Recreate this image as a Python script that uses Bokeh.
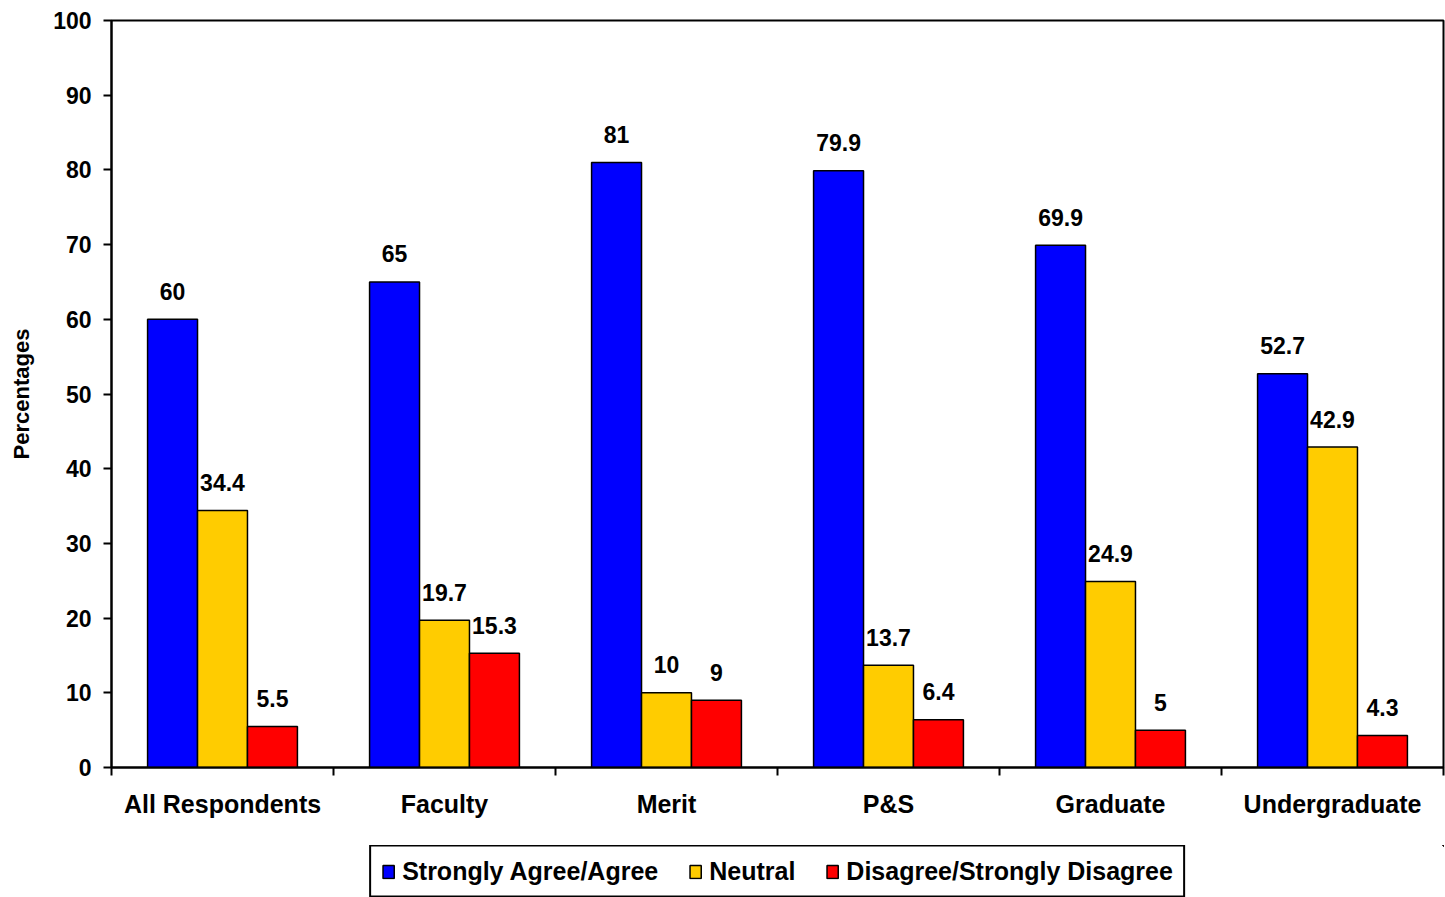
import numpy as np
from bokeh.plotting import figure
from bokeh.layouts import column
from bokeh.models import (ColumnDataSource, Range1d, FixedTicker, Legend, LegendItem)
from bokeh.core.properties import value
from bokeh.embed import file_html
from bokeh.resources import INLINE

categories = ["All Respondents", "Faculty", "Merit", "P&S", "Graduate", "Undergraduate"]
series_names = ["Strongly Agree/Agree", "Neutral", "Disagree/Strongly Disagree"]
agree = [60, 65, 81, 79.9, 69.9, 52.7]
neutral = [34.4, 19.7, 10, 13.7, 24.9, 42.9]
disagree = [5.5, 15.3, 9, 6.4, 5, 4.3]
y_ticks = [0, 10, 20, 30, 40, 50, 60, 70, 80, 90, 100]

colors = ["#0000FF", "#FFCC00", "#FF0000"]
FONT = "Liberation Sans"
bar_w = 0.225
offsets = [-bar_w, 0.0, bar_w]

W = 1445
H_MAIN, H_LEG = 845, 52
p = figure(width=W, height=H_MAIN, output_backend="svg", toolbar_location=None,
           x_range=Range1d(0, len(categories)), y_range=Range1d(0, 100),
           min_border_left=111, min_border_right=2, min_border_top=20,
           min_border_bottom=H_MAIN - 767)
p.background_fill_color = "white"
p.border_fill_color = "white"
p.outline_line_color = "black"
p.outline_line_width = 2
p.xgrid.visible = False
p.ygrid.visible = False

centers = np.arange(len(categories)) + 0.5
sources = []
for vals, off, col in zip([agree, neutral, disagree], offsets, colors):
    src = ColumnDataSource(dict(
        x=centers + off, top=vals,
        lbl=[f"{v:g}" for v in vals]))
    sources.append(src)
    p.vbar(x="x", top="top", bottom=0, width=bar_w, source=src,
           fill_color=col, line_color="black", line_width=1.5)
    p.text(x="x", y="top", text="lbl", source=src, text_align="center",
           text_baseline="alphabetic", y_offset=-28,
           text_font=value(FONT), text_font_style="bold",
           text_font_size="23px", text_color="black")

# y axis
yax = p.yaxis[0]
yax.ticker = FixedTicker(ticks=y_ticks)
yax.axis_label = "Percentages"
yax.axis_label_text_font = FONT
yax.axis_label_text_font_style = "bold"
yax.axis_label_text_font_size = "22px"
yax.axis_label_text_color = "black"
yax.axis_label_standoff = 16
yax.major_label_text_font = FONT
yax.major_label_text_font_style = "bold"
yax.major_label_text_font_size = "23px"
yax.major_label_text_color = "black"
yax.major_label_standoff = 12
yax.major_tick_out = 8
yax.major_tick_in = 0
yax.minor_tick_out = 0
yax.minor_tick_in = 0
yax.axis_line_width = 2
yax.major_tick_line_width = 2

# x axis: labels at category centers, tick marks at group boundaries
xax = p.xaxis[0]
xax.ticker = FixedTicker(ticks=list(centers),
                         minor_ticks=list(range(len(categories) + 1)))
xax.major_label_overrides = {float(c): name for c, name in zip(centers, categories)}
xax.major_label_text_font = FONT
xax.major_label_text_font_style = "bold"
xax.major_label_text_font_size = "25px"
xax.major_label_text_color = "black"
xax.major_label_standoff = 14
xax.major_tick_out = 0
xax.major_tick_in = 0
xax.minor_tick_out = 8
xax.minor_tick_in = 0
xax.minor_tick_line_width = 2
xax.axis_line_width = 2

# legend strip below the chart (its bars lie far outside its visible ranges,
# only the legend swatches show)
lf = figure(width=W, height=H_LEG, output_backend="svg", toolbar_location=None,
            x_range=Range1d(-20, -10), y_range=Range1d(-1000, -999),
            x_axis_type=None, y_axis_type=None,
            min_border_left=107, min_border_right=0, min_border_top=0,
            min_border_bottom=0)
lf.outline_line_color = None
lf.xgrid.visible = False
lf.ygrid.visible = False
leg_renderers = []
for src, col in zip(sources, colors):
    r = lf.vbar(x="x", top="top", bottom=0, width=bar_w, source=src,
                fill_color=col, line_color="black", line_width=1.5)
    leg_renderers.append(r)
legend = Legend(
    items=[LegendItem(label=n, renderers=[r]) for n, r in zip(series_names, leg_renderers)],
    orientation="horizontal", location="center",
    label_text_font=FONT, label_text_font_style="bold", label_text_font_size="25px",
    label_text_color="black",
    glyph_width=14, glyph_height=16, label_standoff=7, spacing=30,
    padding=10, margin=0,
    border_line_color="black", border_line_width=2, border_line_alpha=1.0,
    background_fill_color="white", background_fill_alpha=1.0)
lf.add_layout(legend, "center")

layout = column(p, lf, spacing=0)
open("out.html", "w").write(file_html(layout, INLINE))
